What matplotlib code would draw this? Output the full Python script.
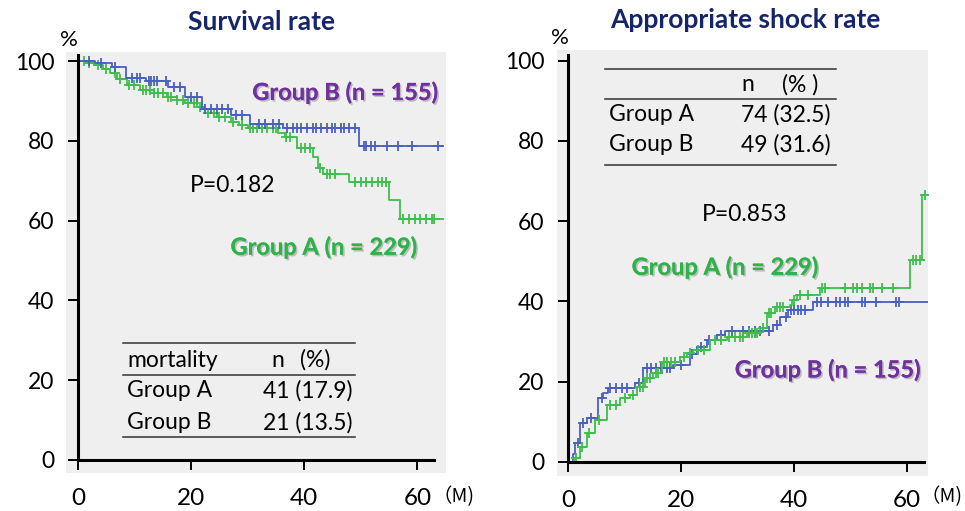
import numpy as np
import matplotlib
matplotlib.use("Agg")
import matplotlib.pyplot as plt
import matplotlib.patheffects as pe

plt.rcParams['font.family'] = ['Lato', 'DejaVu Sans']

# ---- data (months, %) ----
surv_b_t = [0, 3, 6, 8.5, 12, 16, 19, 22, 27, 30.5, 36.3, 49.7]
surv_b_v = [100, 99.6, 98.6, 95.7, 95, 93.5, 91, 88, 86.5, 84.3, 83.2, 78.8]
surv_b_cens = [2, 4, 6.5, 9.5, 10.5, 11, 12.5, 13, 13.5, 14, 15.5, 17, 18, 20, 21,
               22.5, 23.5, 24.5, 25.5, 26.5, 28, 29, 32, 33, 34.5, 35.5, 37, 38,
               38.7, 39.5, 40.5, 41.5, 42, 43, 44, 45, 45.5, 46.5, 47, 48, 49,
               50.5, 51, 51.8, 52.6, 54.7, 56.5, 59.1, 63.7]

surv_a_t = [0, 1.5, 3, 4.5, 5.7, 7, 8.7, 11, 13.5, 15.7, 17.5, 19, 21, 22.5, 24.5,
            27, 28.5, 30, 35.4, 36.6, 38.7, 41.6, 42.5, 43.4, 48, 55, 57]
surv_a_v = [100, 99.5, 99, 98, 97, 95.5, 94, 92.7, 92, 91, 90.3, 89.4, 88.5, 87, 86,
            84.7, 84, 83.2, 82, 81, 78.2, 76, 73.2, 71.7, 69.7, 65.2, 60.3]
surv_a_cens = [1, 2, 3.5, 5, 6.5, 7.5, 9, 10, 11.5, 12, 12.8, 13.5, 14.2, 15, 16,
               16.5, 17.5, 18.5, 19.5, 20.5, 21.5, 23, 24, 25, 26, 27.5, 29, 30.5,
               31, 31.7, 32.5, 33.5, 34.5, 35, 36.8, 37.5, 39.5, 40.2, 41, 42.8,
               44, 44.5, 45.5, 49, 50, 51, 52, 53, 53.8, 54.5, 57.5, 58.5, 59.5,
               60.5, 61.5, 62.5, 63]
surv_end = 64.6

shock_b_t = [0, 0.9, 1.2, 2.1, 3.3, 5.3, 6.2, 7.1, 11.9, 13.3, 18.6, 21.6, 22.8,
             24.6, 26.4, 27.8, 36.3, 37.5, 39, 43.4]
shock_b_v = [0, 2, 4.7, 9.7, 11, 16, 17.2, 18.5, 19.7, 23.4, 24.2, 27, 28.7,
             30.4, 31.7, 32.7, 34.2, 36.2, 37.9, 39.9]
shock_b_cens = [1.8, 2.7, 4, 6, 7.5, 8.5, 9.5, 10.5, 12.5, 14, 14.7, 15.5, 16.5,
                17.5, 18, 20, 22, 23.5, 25, 27, 29, 31, 32, 33, 34, 35.5, 37, 38.5,
                39.5, 40, 40.7, 41.3, 42, 44, 44.7, 46, 47.5, 48.2, 49, 49.6, 52,
                52.6, 54.5, 58, 58.5]

shock_a_t = [0, 1, 2.1, 3.3, 4.8, 6.9, 9.2, 11, 12.2, 13.6, 15, 16.6, 19.8, 21,
             22.1, 25.1, 28.1, 31.6, 34, 35.2, 36.6, 39.3, 39.6, 40.5, 44.6, 60.5, 62.7]
shock_a_v = [0, 1, 3.7, 7.2, 10.5, 14.2, 16, 16.7, 18.7, 20.9, 22.2, 25, 26.2, 27.2,
             27.9, 30.4, 31.2, 32.1, 33.4, 37.1, 38.6, 39.2, 40.4, 41.6, 43.4, 50.4, 66.6]
shock_a_cens = [1.5, 2.5, 3.8, 5.5, 7.5, 8.5, 10, 11.5, 12.8, 13.2, 14, 14.5, 15.5,
                16, 17, 17.5, 18.2, 19, 20.5, 21.5, 23, 24, 26, 27, 28.5, 29.5, 30.5,
                31, 32, 32.5, 33, 33.5, 34.5, 35.5, 36, 37, 37.5, 38, 40, 41, 42.5,
                45, 45.5, 49, 50.5, 51.2, 52, 53.5, 54, 55.5, 57.5, 61, 61.6, 62.2, 63.2]
shock_end = 63.7

surv_table = [["Group A", "41 (17.9)"], ["Group B", "21 (13.5)"]]
shock_table = [["Group A", "74 (32.5)"], ["Group B", "49 (31.6)"]]

BLUE = "#4a5fc1"
GREEN = "#3dbf4c"
GREEN_TXT = "#2eb34a"
PURPLE = "#7030a0"
NAVY = "#15256a"
BG = "#efefef"

shadow = [pe.withSimplePatchShadow(offset=(1.2, -1.2), shadow_rgbFace="#9a9a9a", alpha=0.6),
          pe.Normal()]


def km(ax, t, v, cens, end, color, z):
    t = np.array(t + [end])
    v = np.array(v + [v[-1]])
    ax.step(t, v, where='post', color=color, lw=1.3, zorder=z)
    c = np.array(cens)
    idx = np.searchsorted(t, c, side='right') - 1
    ax.plot(c, v[idx], ls='none', marker='+', ms=7, mew=1.3, color=color, zorder=z)


def style(ax, xlim, ylim):
    ax.set_facecolor(BG)
    ax.set_xlim(*xlim)
    ax.set_ylim(*ylim)
    for s in ['top', 'right']:
        ax.spines[s].set_visible(False)
    ax.spines['left'].set_position(('data', 0))
    ax.spines['bottom'].set_position(('data', 0))
    ax.spines['left'].set_bounds(0, 101.5)
    ax.spines['bottom'].set_bounds(0, 63)
    for s in ['left', 'bottom']:
        ax.spines[s].set_linewidth(2.2)
        ax.spines[s].set_zorder(5)
    ax.set_xticks([0, 20, 40, 60])
    ax.set_yticks([0, 20, 40, 60, 80, 100])
    ax.tick_params(axis='y', direction='out', length=7, width=1.4, pad=10, labelsize=16.5)
    ax.tick_params(axis='x', direction='out', length=7, width=1.4, pad=13, labelsize=17.5)


def table(ax, x0, x1, xl, xr, ys, lines, header, rows):
    for y in lines:
        ax.plot([x0, x1], [y, y], color='#333333', lw=1.1, zorder=6)
    for txt, x, ha in header[1]:
        ax.text(x, header[0], txt, ha=ha, va='center', fontsize=16.5, zorder=6)
    for (name, val), y in zip(rows, ys):
        ax.text(xl, y, name, ha='left', va='center', fontsize=16.5, zorder=6)
        ax.text(xr, y, val, ha='right', va='center', fontsize=16.5, zorder=6)


fig = plt.figure(figsize=(9.65, 5.11), dpi=100)
ax1 = fig.add_axes([0.0684, 0.0744, 0.394, 0.824])
ax2 = fig.add_axes([0.5772, 0.0685, 0.3845, 0.834])

# ---- survival ----
style(ax1, (-2.1, 65.1), (-3.3, 102.3))
km(ax1, surv_a_t, surv_a_v, surv_a_cens, surv_end, GREEN, 3)
km(ax1, surv_b_t, surv_b_v, surv_b_cens, surv_end, BLUE, 4)
ax1.text(47.3, 92.2, "Group B (n = 155)", color=PURPLE, fontsize=17, fontweight='bold',
         ha='center', va='center', path_effects=shadow)
ax1.text(43.5, 53.4, "Group A (n = 229)", color=GREEN_TXT, fontsize=17, fontweight='bold',
         ha='center', va='center', path_effects=shadow)
ax1.text(27.3, 68.9, "P=0.182", fontsize=16.5, ha='center', va='center')
table(ax1, 8.0, 49.0, 8.7, 48.5, [17.3, 9.3], [29.3, 21.3, 5.8],
      (25.0, [("mortality", 8.7, 'left'), ("n", 35.4, 'center'), ("(%)", 42.0, 'center')]),
      surv_table)

# ---- appropriate shock ----
style(ax2, (-1.95, 63.7), (-3.5, 102.7))
km(ax2, shock_b_t, shock_b_v, shock_b_cens, shock_end, BLUE, 3)
km(ax2, shock_a_t, shock_a_v, shock_a_cens, shock_end, GREEN, 4)
ax2.text(27.8, 48.6, "Group A (n = 229)", color=GREEN_TXT, fontsize=17, fontweight='bold',
         ha='center', va='center', path_effects=shadow)
ax2.text(46.0, 23.0, "Group B (n = 155)", color=PURPLE, fontsize=17, fontweight='bold',
         ha='center', va='center', path_effects=shadow)
ax2.text(31.3, 61.6, "P=0.853", fontsize=16.5, ha='center', va='center')
table(ax2, 6.5, 47.4, 7.3, 46.4, [86.5, 79.0], [98.0, 90.5, 74.0],
      (94.0, [("n", 31.9, 'center'), ("(% )", 41.0, 'center')]),
      shock_table)

# titles and unit labels
fig.text(262 / 965, 1 - 22 / 511, "Survival rate", color=NAVY, fontsize=19,
         fontweight='bold', ha='center', va='center')
fig.text(745 / 965, 1 - 20 / 511, "Appropriate shock rate", color=NAVY, fontsize=19,
         fontweight='bold', ha='center', va='center')
fig.text(69 / 965, 1 - 40 / 511, "%", fontsize=16, ha='center', va='center')
fig.text(560 / 965, 1 - 38 / 511, "%", fontsize=16, ha='center', va='center')
fig.text(474 / 965, 1 - 497 / 511, "（M)", fontsize=14, ha='right', va='center',
         family=['Noto Sans CJK JP', 'DejaVu Sans'])
fig.text(962 / 965, 1 - 497 / 511, "（M)", fontsize=14, ha='right', va='center',
         family=['Noto Sans CJK JP', 'DejaVu Sans'])

fig.savefig("out.png", dpi=100)
